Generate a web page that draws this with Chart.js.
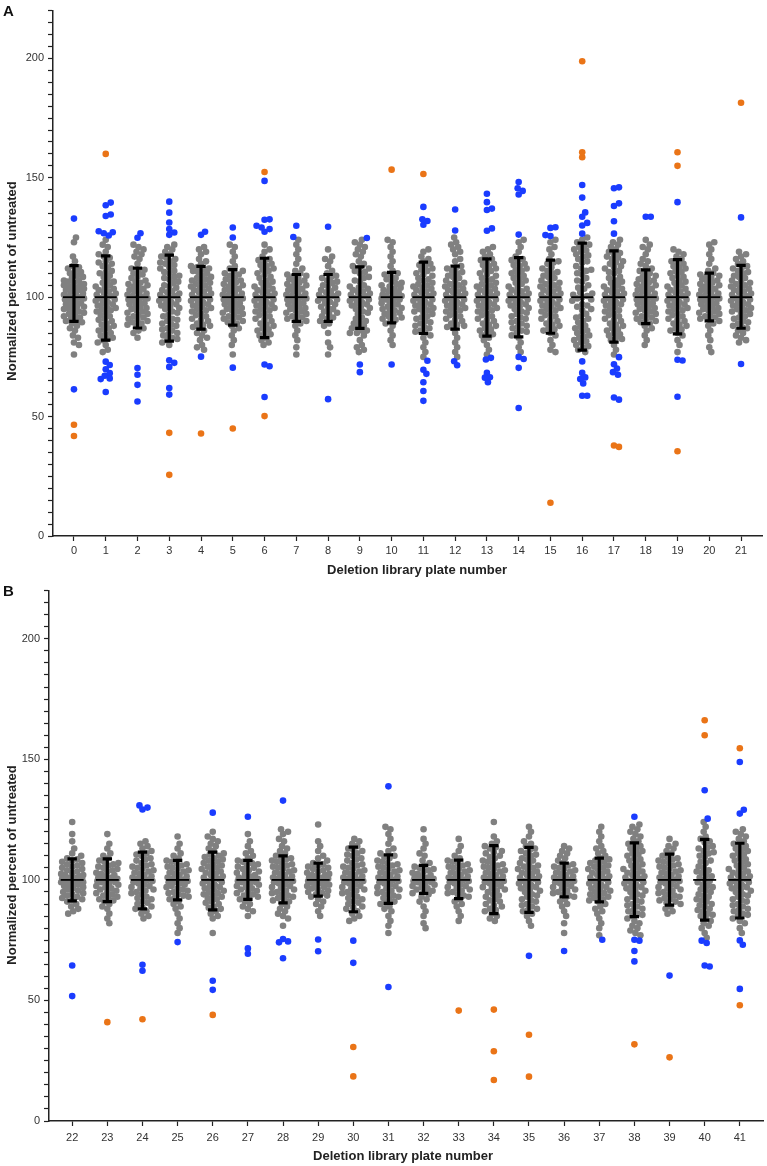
<!DOCTYPE html>
<html>
<head>
<meta charset="utf-8">
<script src="https://cdn.jsdelivr.net/npm/chart.js@4.4.1/dist/chart.umd.min.js"></script>
<style>
    body { margin: 0; background: #fff; width: 767px; height: 1166px; position: relative; overflow: hidden; font-family: "Liberation Sans", Arial, sans-serif; }
    .panel { position: absolute; left: 0; width: 767px; }
    .panel canvas { display: block; }
    .tag { position: absolute; left: 3px; font-weight: bold; font-size: 15px; line-height: 1; color: #111; }
    .ytitle, .xtitle { position: absolute; font-weight: bold; font-size: 13px; line-height: 1; color: #222; white-space: nowrap; }
    .ytitle { transform: translate(-50%, -50%) rotate(-90deg); }
    .xtitle { transform: translate(-50%, -50%); }
</style>
</head>
<body>
<div class="panel" style="top:0;height:580px"><canvas id="chartA" width="767" height="580"></canvas></div>
<div class="panel" style="top:580px;height:586px"><canvas id="chartB" width="767" height="586"></canvas></div>
<div class="tag" style="top:3px">A</div>
<div class="tag" style="top:583px">B</div>
<div class="ytitle" style="left:11px;top:281px">Normalized percent of untreated</div>
<div class="ytitle" style="left:11px;top:865px">Normalized percent of untreated</div>
<div class="xtitle" style="left:417px;top:569px">Deletion library plate number</div>
<div class="xtitle" style="left:403px;top:1155px">Deletion library plate number</div>

<script>
// Plate numbers (x categories)
const platesA = [0, 1, 2, 3, 4, 5, 6, 7, 8, 9, 10, 11, 12, 13, 14, 15, 16, 17, 18, 19, 20, 21];
const platesB = [22, 23, 24, 25, 26, 27, 28, 29, 30, 31, 32, 33, 34, 35, 36, 37, 38, 39, 40, 41];

// y ticks (labels only on multiples of 50)
const yTicks = [0, 5, 10, 15, 20, 25, 30, 35, 40, 45, 50, 55, 60, 65, 70, 75, 80, 85, 90, 95, 100,
    105, 110, 115, 120, 125, 130, 135, 140, 145, 150, 155, 160, 165, 170, 175, 180, 185, 190, 195, 200,
    205, 210, 215, 220];

// Panel A - mean and error bar ends
const meanA = [100, 100, 100, 100, 100, 100, 100, 100, 100, 100, 100, 100, 100, 100, 100, 100, 100, 100, 100, 100, 100, 100];
const upperA = [113.2, 117.3, 112.2, 117.6, 112.9, 111.5, 116.3, 109.5, 109.5, 112.7, 110.4, 114.7, 113, 116, 116.6, 115.5, 122.6, 119.4, 111.4, 115.7, 110.1, 113.3];
const lowerA = [89.9, 82.0, 87.1, 81.6, 86.6, 88.3, 83.1, 89.9, 89.9, 86.9, 89.2, 84.8, 86.6, 83.7, 83.4, 84.9, 77.8, 81.2, 88.9, 84.6, 90.1, 87.0];

// Panel A - grey points per plate (full spread)
const greyA = [
    [125, 123, 117, 115, 113, 112, 111, 110, 109, 108, 107, 106, 105, 105, 104, 103, 102, 101, 100, 100, 99, 98, 97, 96, 95, 94, 93, 92, 91, 90, 89, 88, 87, 86, 84, 83, 81, 80, 76],
    [124, 122, 121, 119, 118, 117, 115, 114, 113, 111, 110, 109, 107, 106, 105, 104, 103, 102, 101, 100, 99, 98, 97, 96, 95, 94, 92, 91, 90, 89, 88, 87, 86, 85, 84, 83, 82, 81, 80, 78, 77],
    [122, 121, 120, 119, 118, 117, 116, 114, 112, 111, 110, 108, 107, 106, 105, 104, 103, 102, 101, 100, 100, 99, 98, 97, 96, 95, 94, 93, 92, 91, 90, 89, 88, 87, 86, 85, 83],
    [122, 121, 120, 119, 118, 117, 116, 115, 114, 112, 111, 110, 109, 108, 106, 105, 104, 103, 102, 101, 100, 99, 98, 97, 96, 95, 94, 92, 91, 90, 89, 88, 87, 86, 85, 84, 83, 82, 81, 80],
    [121, 120, 119, 118, 116, 115, 114, 113, 112, 111, 110, 109, 108, 107, 106, 105, 104, 103, 102, 101, 100, 99, 98, 97, 96, 95, 94, 93, 92, 91, 90, 89, 88, 87, 86, 85, 84, 83, 82, 80, 79, 78],
    [122, 121, 119, 117, 115, 113, 112, 111, 110, 109, 108, 107, 106, 105, 104, 103, 102, 101, 100, 100, 99, 98, 97, 96, 95, 94, 93, 92, 91, 90, 89, 88, 87, 86, 84, 82, 80, 76],
    [122, 120, 119, 117, 116, 115, 114, 113, 112, 111, 110, 108, 107, 106, 105, 104, 103, 102, 101, 100, 99, 98, 97, 96, 95, 94, 93, 92, 91, 90, 89, 88, 87, 86, 85, 84, 83, 82, 81, 80],
    [124, 122, 120, 118, 116, 114, 112, 111, 110, 109, 108, 107, 106, 105, 104, 103, 102, 101, 100, 100, 99, 98, 97, 96, 95, 94, 93, 92, 91, 90, 89, 88, 86, 84, 82, 79, 76],
    [120, 117, 116, 115, 113, 111, 110, 109, 108, 107, 106, 105, 104, 103, 102, 101, 100, 99, 98, 97, 96, 95, 94, 93, 92, 91, 90, 89, 88, 85, 81, 79, 76],
    [124, 123, 122, 121, 120, 119, 118, 117, 115, 114, 113, 112, 111, 110, 108, 107, 105, 104, 103, 102, 101, 100, 99, 98, 97, 96, 95, 94, 93, 91, 90, 89, 88, 87, 86, 85, 84, 82, 80, 79, 78, 77],
    [124, 123, 121, 119, 117, 115, 113, 111, 110, 109, 108, 106, 105, 104, 103, 102, 101, 100, 100, 99, 99, 98, 97, 96, 95, 94, 93, 92, 91, 90, 89, 88, 86, 84, 82, 80],
    [120, 119, 117, 116, 115, 114, 113, 112, 111, 110, 109, 108, 107, 106, 105, 104, 103, 102, 101, 100, 99, 98, 97, 96, 95, 94, 93, 92, 91, 90, 89, 88, 87, 86, 85, 84, 83, 81, 79, 77, 75],
    [125, 123, 122, 121, 120, 119, 118, 116, 115, 113, 112, 111, 110, 109, 108, 107, 106, 105, 104, 103, 102, 101, 100, 99, 98, 97, 96, 95, 94, 93, 92, 91, 90, 89, 88, 87, 85, 83, 81, 79, 77, 75],
    [121, 120, 119, 118, 117, 116, 115, 114, 113, 112, 111, 110, 109, 108, 107, 106, 105, 104, 103, 102, 101, 100, 99, 98, 97, 96, 95, 94, 93, 92, 91, 90, 89, 88, 87, 86, 85, 84, 83, 82, 80, 78, 76],
    [124, 123, 121, 119, 117, 116, 115, 114, 113, 112, 111, 110, 109, 108, 107, 106, 104, 103, 102, 101, 100, 99, 98, 97, 96, 95, 94, 93, 92, 91, 90, 89, 88, 87, 86, 85, 84, 83, 81, 79, 77],
    [124, 123, 121, 120, 118, 116, 115, 114, 112, 111, 110, 109, 108, 107, 106, 105, 104, 103, 102, 101, 100, 99, 98, 97, 96, 95, 94, 93, 92, 91, 90, 89, 88, 87, 86, 85, 84, 82, 80, 78, 77],
    [125, 124, 123, 122, 121, 120, 119, 118, 117, 116, 115, 113, 112, 111, 110, 108, 107, 105, 104, 102, 101, 100, 99, 97, 96, 95, 93, 92, 91, 90, 88, 87, 86, 85, 84, 83, 82, 81, 80, 79, 78, 77],
    [124, 123, 122, 121, 120, 119, 118, 117, 116, 115, 114, 113, 112, 111, 110, 108, 107, 106, 105, 104, 103, 102, 101, 100, 99, 98, 97, 96, 95, 94, 93, 92, 91, 90, 89, 88, 87, 86, 85, 84, 83, 82, 80, 78, 76],
    [124, 122, 121, 120, 118, 116, 115, 114, 113, 112, 111, 110, 109, 108, 107, 106, 105, 104, 103, 102, 101, 100, 100, 99, 98, 97, 96, 95, 94, 93, 92, 91, 90, 89, 88, 87, 86, 84, 82, 80],
    [120, 119, 118, 117, 116, 115, 114, 113, 112, 111, 110, 109, 108, 107, 106, 105, 104, 103, 102, 101, 100, 99, 98, 97, 96, 95, 94, 93, 92, 91, 90, 89, 88, 87, 86, 85, 84, 82, 80, 77],
    [123, 122, 120, 118, 116, 114, 112, 111, 110, 109, 108, 107, 106, 105, 104, 103, 102, 101, 100, 100, 99, 98, 97, 96, 95, 94, 93, 92, 91, 90, 89, 88, 86, 84, 82, 79, 77],
    [119, 118, 117, 116, 115, 114, 113, 112, 111, 110, 109, 108, 107, 106, 105, 104, 103, 102, 101, 100, 99, 98, 97, 96, 95, 94, 93, 92, 91, 90, 89, 88, 87, 86, 85, 84, 83, 82, 81]
];

// Panel A - extra grey points crowded inside the error bar
const greyCoreA = [
    [112.5, 110.5, 108.5, 107, 106.5, 105.5, 104.5, 103.5, 103, 102.5, 101.5, 100.5, 99.5, 98.5, 97.5, 96.5, 96, 95.5, 94.5, 93.5, 92.5, 91.5, 90.5, 89.5],
    [116.5, 114.5, 112.5, 110.5, 108.5, 106.5, 104.5, 103.5, 102.5, 101.5, 100.5, 99.5, 98.5, 97.5, 96.5, 95.5, 94.5, 93.5, 92.5, 90.5, 88.5, 86.5, 84.5, 82.5],
    [111.5, 109.5, 108.5, 106.5, 105.5, 104.5, 103.5, 102.5, 101.5, 100.5, 99.5, 98.5, 97.5, 96.5, 95.5, 94.5, 93.5, 92.5, 91.5, 90.5, 89.5, 88.5],
    [116.5, 114.5, 113.5, 112.5, 110.5, 108.5, 107.5, 106.5, 104.5, 102.5, 101.5, 100.5, 99.5, 98.5, 97.5, 96.5, 95.5, 93.5, 92.5, 90.5, 88.5, 86.5, 84.5, 82.5],
    [112.5, 111.5, 110.5, 108.5, 107.5, 106.5, 105.5, 104.5, 103.5, 102.5, 101.5, 100.5, 99.5, 98.5, 97.5, 96.5, 95.5, 94.5, 92.5, 90.5, 88.5, 87.5],
    [110.5, 109.5, 107.5, 106.5, 105.5, 104.5, 103.5, 102.5, 101.5, 100.5, 99.5, 98.5, 97.5, 96.5, 95.5, 94.5, 93.5, 92.5, 91.5, 90.5, 89.5],
    [115.5, 113.5, 111.5, 109.5, 108.5, 106.5, 104.5, 103.5, 102.5, 101.5, 100.5, 99.5, 98.5, 97.5, 96.5, 95.5, 94.5, 92.5, 90.5, 88.5, 86.5, 84.5],
    [109.5, 108.5, 107.5, 106.5, 105.5, 104.5, 103.5, 102.5, 101.5, 100.5, 99.5, 98.5, 97.5, 96.5, 95.5, 94.5, 93.5, 92.5, 91.5, 90.5],
    [108.5, 106.5, 104.5, 102.5, 101.5, 100.5, 99.5, 98.5, 97.5, 95.5, 93.5, 91.5],
    [112.5, 110.5, 108.5, 106.5, 104.5, 103.5, 102.5, 101.5, 100.5, 99.5, 98.5, 97.5, 96.5, 95.5, 93.5, 91.5, 89.5, 87.5, 86, 85],
    [109.5, 107.5, 106.5, 105.5, 104.5, 103.5, 102.5, 101.5, 100.5, 100.5, 99.5, 99.5, 98.5, 97.5, 96.5, 95.5, 94.5, 93.5, 92.5, 91.5, 90.5],
    [113.5, 111.5, 109.5, 107.5, 105.5, 104.5, 103.5, 102.5, 101.5, 100.5, 99.5, 98.5, 97.5, 96.5, 95.5, 94.5, 93.5, 91.5, 89.5, 87.5, 85.5],
    [112.5, 110.5, 108.5, 106.5, 105.5, 104.5, 103.5, 102.5, 101.5, 100.5, 99.5, 98.5, 97.5, 96.5, 95.5, 94.5, 92.5, 90.5, 88.5, 87.5],
    [115.5, 113.5, 111.5, 109.5, 107.5, 105.5, 104.5, 103.5, 102.5, 101.5, 100.5, 99.5, 98.5, 97.5, 96.5, 95.5, 94.5, 92.5, 90.5, 88.5, 86.5, 84.5],
    [115.5, 113.5, 111.5, 109.5, 107.5, 105.5, 104.5, 103.5, 102.5, 101.5, 100.5, 99.5, 98.5, 97.5, 96.5, 95.5, 93.5, 91.5, 89.5, 87.5, 85.5],
    [114.5, 112.5, 110.5, 108.5, 106.5, 105.5, 104.5, 103.5, 102.5, 101.5, 100.5, 99.5, 98.5, 97.5, 96.5, 95.5, 94.5, 92.5, 90.5, 88.5, 86.5],
    [121.5, 119.5, 117.5, 114.5, 111.5, 109.5, 106.5, 103.5, 101.5, 100.5, 99.5, 98.5, 96.5, 94.5, 91.5, 89.5, 87.5, 85.5, 83.5, 81.5, 79.5],
    [118.5, 116.5, 114.5, 112.5, 110.5, 108.5, 106.5, 104.5, 103.5, 102.5, 101.5, 100.5, 99.5, 98.5, 97.5, 96.5, 94.5, 92.5, 90.5, 88.5, 86.5, 84.5, 82.5],
    [110.5, 108.5, 107.5, 106.5, 105.5, 104.5, 103.5, 102.5, 101.5, 100.5, 99.5, 98.5, 97.5, 96.5, 95.5, 94.5, 93.5, 92.5, 91.5, 90.5, 89.5],
    [114.5, 112.5, 110.5, 108.5, 106.5, 104.5, 103.5, 102.5, 101.5, 100.5, 99.5, 98.5, 97.5, 96.5, 95.5, 94.5, 92.5, 90.5, 88.5, 86.5],
    [109.5, 108.5, 107.5, 106.5, 105.5, 104.5, 103.5, 102.5, 101.5, 100.5, 99.5, 98.5, 97.5, 96.5, 95.5, 94.5, 93.5, 92.5, 91.5, 90.5],
    [112.5, 110.5, 108.5, 106.5, 105.5, 104.5, 103.5, 102.5, 101.5, 100.5, 99.5, 98.5, 97.5, 96.5, 95.5, 94.5, 93.5, 91.5, 89.5, 87.5]
];

// Panel A - blue (moderate) and orange (strong) outliers per plate
const blueA = [
    [132.9, 61.4],
    [139.6, 138.5, 134.6, 134.0, 127.6, 127.2, 126.8, 125.8, 73.0, 71.6, 69.8, 68.2, 67.1, 66.0, 65.7, 60.3],
    [126.8, 124.9, 70.3, 67.5, 63.3, 56.3],
    [140.0, 135.4, 131.3, 128.5, 127.1, 126.1, 73.6, 72.5, 70.8, 62.0, 59.2],
    [127.4, 126.1, 75.1],
    [129.2, 125.0, 70.5],
    [148.7, 132.6, 132.4, 129.9, 129.2, 128.5, 127.4, 71.8, 71.1, 58.2],
    [129.9, 125.2],
    [129.5, 57.3],
    [124.8, 71.8, 68.6],
    [71.8],
    [137.8, 132.6, 131.9, 130.3, 73.4, 69.6, 67.9, 64.4, 60.7, 56.6],
    [136.7, 127.9, 73.2, 71.5],
    [143.3, 139.8, 137.1, 136.5, 128.8, 127.8, 74.6, 73.9, 68.3, 66.5, 66.3, 64.4],
    [148.2, 145.6, 144.5, 143.0, 126.2, 75.0, 74.1, 70.4, 53.6],
    [129.3, 129.0, 126.0, 125.6],
    [147.0, 141.7, 135.5, 133.7, 131.1, 130.0, 126.6, 73.1, 68.3, 66.4, 65.7, 63.9, 58.7, 58.7],
    [146.0, 145.6, 139.3, 138.2, 131.8, 126.6, 74.9, 71.9, 70.1, 68.6, 67.5, 58.0, 57.1],
    [133.7, 133.7],
    [139.8, 73.8, 73.5, 58.3],
    [],
    [133.4, 72.0]
];
const orangeA = [
    [46.6, 41.9], [160.0], [], [43.2, 25.6], [42.9], [45.0], [152.4, 50.2], [], [], [], [153.4],
    [151.6], [], [], [], [13.9], [198.8, 160.7, 158.6], [37.9, 37.3], [], [160.7, 155.0, 35.5], [], [181.4]
];

// Panel B - mean and error bar ends
const meanB = [100, 100, 100, 100, 100, 100, 100, 100, 100, 100, 100, 100, 100, 100, 100, 100, 100, 100, 100, 100];
const upperB = [108.7, 108.7, 111.5, 108.1, 111.5, 108.1, 110.0, 107.0, 113.6, 110.4, 106.0, 108.2, 114.2, 113.5, 107.0, 109.0, 115.4, 110.7, 116.8, 115.2];
const lowerB = [91.3, 91.0, 88.0, 91.7, 87.6, 91.9, 90.5, 93.3, 86.8, 90.3, 94.4, 92.2, 86.0, 86.5, 93.0, 90.9, 84.8, 89.5, 83.3, 84.2];

// Panel B - grey points per plate (full spread)
const greyB = [
    [124, 119, 116, 113, 111, 110, 109, 108, 107, 106, 105, 104, 103, 102, 102, 101, 101, 100, 100, 100, 99, 99, 98, 98, 97, 96, 95, 94, 93, 92, 91, 90, 89, 88, 87, 86],
    [119, 115, 113, 111, 110, 109, 108, 107, 106, 105, 104, 103, 102, 101, 101, 100, 100, 99, 99, 98, 97, 96, 95, 94, 93, 92, 91, 90, 89, 88, 86, 84, 82],
    [116, 115, 114, 113, 112, 111, 110, 109, 108, 107, 106, 105, 104, 103, 102, 101, 100, 100, 99, 98, 97, 96, 95, 94, 93, 92, 91, 90, 89, 88, 87, 86, 85, 84],
    [118, 115, 113, 111, 110, 109, 108, 107, 106, 105, 104, 103, 102, 101, 100, 100, 99, 99, 98, 97, 96, 95, 94, 93, 92, 91, 90, 89, 88, 86, 84, 82, 80, 78],
    [120, 118, 117, 116, 115, 114, 113, 112, 111, 110, 109, 108, 107, 106, 105, 104, 103, 102, 101, 100, 99, 98, 97, 96, 95, 94, 93, 92, 91, 90, 89, 88, 87, 86, 85, 84, 78],
    [119, 116, 114, 112, 111, 110, 109, 108, 107, 106, 105, 104, 103, 102, 101, 100, 100, 99, 99, 98, 97, 96, 95, 94, 93, 92, 91, 90, 89, 88, 87, 85],
    [121, 120, 119, 117, 116, 114, 113, 112, 111, 110, 109, 108, 107, 106, 105, 104, 103, 102, 101, 100, 100, 99, 98, 97, 96, 95, 94, 93, 92, 91, 90, 89, 88, 87, 86, 85, 84, 81],
    [123, 116, 114, 112, 110, 109, 108, 107, 106, 105, 104, 103, 102, 102, 101, 101, 100, 100, 99, 99, 98, 98, 97, 96, 95, 94, 93, 92, 91, 90, 89, 87, 85],
    [117, 116, 115, 114, 113, 112, 111, 110, 109, 108, 107, 106, 105, 104, 103, 102, 101, 100, 100, 99, 98, 97, 96, 95, 94, 93, 92, 91, 90, 89, 88, 87, 86, 85, 84, 83],
    [122, 121, 119, 117, 115, 113, 112, 111, 110, 109, 108, 107, 106, 105, 104, 103, 102, 101, 100, 100, 99, 98, 97, 96, 95, 94, 93, 92, 91, 90, 89, 88, 87, 85, 83, 81, 78],
    [121, 117, 115, 113, 111, 110, 108, 107, 106, 105, 104, 103, 102, 101, 101, 100, 100, 99, 99, 98, 97, 96, 95, 94, 93, 92, 91, 89, 87, 85, 82, 80],
    [117, 114, 112, 110, 109, 108, 107, 106, 105, 104, 103, 102, 101, 100, 100, 99, 98, 97, 96, 95, 94, 93, 92, 91, 90, 89, 87, 85, 83],
    [124, 118, 116, 115, 114, 113, 112, 111, 110, 109, 108, 107, 106, 105, 104, 103, 102, 101, 100, 100, 99, 98, 97, 96, 95, 94, 93, 92, 91, 90, 89, 88, 87, 86, 85, 84, 83],
    [122, 120, 118, 116, 115, 114, 113, 112, 111, 110, 109, 108, 107, 106, 105, 104, 103, 102, 101, 100, 99, 98, 97, 96, 95, 94, 93, 92, 91, 90, 89, 88, 87, 86, 85, 83, 81],
    [114, 113, 112, 111, 110, 109, 108, 107, 106, 105, 104, 103, 102, 101, 100, 100, 99, 98, 97, 96, 95, 94, 93, 92, 91, 90, 89, 87, 85, 82, 78],
    [122, 120, 118, 116, 114, 113, 112, 111, 110, 109, 108, 107, 106, 105, 104, 103, 102, 101, 100, 99, 98, 97, 96, 95, 94, 93, 92, 91, 90, 89, 88, 87, 86, 84, 82, 80, 77],
    [123, 122, 121, 120, 119, 118, 117, 116, 115, 114, 113, 112, 111, 110, 109, 108, 107, 106, 105, 104, 103, 102, 101, 100, 99, 98, 97, 96, 95, 94, 93, 92, 91, 90, 89, 88, 87, 86, 85, 84, 83, 82, 81, 80, 79, 78, 77],
    [117, 115, 114, 113, 112, 111, 110, 109, 108, 107, 106, 105, 104, 103, 102, 101, 100, 100, 99, 98, 97, 96, 95, 94, 93, 92, 91, 90, 89, 88, 87, 86],
    [124, 122, 120, 118, 117, 116, 114, 113, 112, 111, 110, 108, 107, 105, 104, 103, 102, 101, 100, 99, 98, 97, 96, 95, 94, 93, 92, 91, 90, 89, 88, 87, 86, 85, 84, 83, 82, 81, 80, 78, 76],
    [121, 120, 119, 118, 117, 116, 115, 114, 113, 112, 111, 110, 109, 108, 107, 106, 105, 104, 103, 102, 101, 100, 99, 98, 97, 96, 95, 94, 93, 92, 91, 90, 89, 88, 87, 86, 85, 84, 83, 82, 80, 78]
];

// Panel B - extra grey points crowded inside the error bar
const greyCoreB = [
    [108.5, 107.5, 106.5, 105.5, 104.5, 103.5, 102.5, 101.5, 100.5, 100.5, 99.5, 99.5, 98.5, 97.5, 96.5, 95.5, 94.5, 93.5, 92.5, 91.5],
    [107.5, 106.5, 105.5, 104.5, 103.5, 102.5, 101.5, 100.5, 100.5, 99.5, 99.5, 98.5, 97.5, 96.5, 95.5, 94.5, 93.5, 92.5, 91.5],
    [110.5, 108.5, 106.5, 105.5, 104.5, 103.5, 102.5, 101.5, 100.5, 99.5, 98.5, 97.5, 96.5, 95.5, 94.5, 92.5, 90.5, 88.5],
    [107.5, 106.5, 105.5, 104.5, 103.5, 102.5, 101.5, 100.5, 99.5, 98.5, 97.5, 96.5, 95.5, 94.5, 93.5, 92.5],
    [110.5, 109.5, 108.5, 107.5, 106.5, 105.5, 104.5, 103.5, 102.5, 101.5, 100.5, 99.5, 98.5, 97.5, 96.5, 95.5, 94.5, 93.5, 92.5, 90.5, 88.5],
    [107.5, 106.5, 105.5, 104.5, 103.5, 102.5, 101.5, 100.5, 100.5, 99.5, 99.5, 98.5, 97.5, 96.5, 95.5, 94.5, 93.5, 92.5],
    [109.5, 108.5, 107.5, 106.5, 105.5, 104.5, 103.5, 102.5, 101.5, 100.5, 99.5, 98.5, 97.5, 96.5, 95.5, 94.5, 93.5, 92.5, 91.5],
    [106.5, 105.5, 104.5, 103.5, 102.5, 101.5, 100.5, 100.5, 99.5, 99.5, 98.5, 97.5, 96.5, 95.5, 94.5, 93.5],
    [112.5, 110.5, 108.5, 106.5, 105.5, 104.5, 103.5, 102.5, 101.5, 100.5, 99.5, 98.5, 97.5, 96.5, 95.5, 94.5, 92.5, 90.5, 88.5],
    [109.5, 107.5, 106.5, 105.5, 104.5, 103.5, 102.5, 101.5, 100.5, 99.5, 98.5, 97.5, 96.5, 95.5, 94.5, 93.5, 92.5, 90.5],
    [105.5, 104.5, 103.5, 102.5, 101.5, 100.5, 100.5, 99.5, 99.5, 98.5, 97.5, 96.5, 95.5, 94.5],
    [107.5, 106.5, 105.5, 104.5, 103.5, 102.5, 101.5, 100.5, 99.5, 98.5, 97.5, 96.5, 95.5, 94.5, 93.5],
    [113.5, 111.5, 109.5, 107.5, 106.5, 105.5, 104.5, 103.5, 102.5, 101.5, 100.5, 99.5, 98.5, 97.5, 96.5, 95.5, 93.5, 91.5, 89.5, 87.5],
    [112.5, 110.5, 108.5, 106.5, 105.5, 104.5, 103.5, 102.5, 101.5, 100.5, 99.5, 98.5, 97.5, 96.5, 95.5, 93.5, 91.5, 89.5, 87.5],
    [106.5, 105.5, 104.5, 103.5, 102.5, 101.5, 100.5, 99.5, 98.5, 97.5, 96.5, 95.5, 94.5, 93.5],
    [108.5, 107.5, 106.5, 105.5, 104.5, 103.5, 102.5, 101.5, 100.5, 99.5, 98.5, 97.5, 96.5, 95.5, 94.5, 93.5, 92.5, 91.5],
    [114.5, 112.5, 110.5, 108.5, 106.5, 104.5, 103.5, 102.5, 101.5, 100.5, 99.5, 98.5, 97.5, 96.5, 95.5, 93.5, 91.5, 89.5, 87.5, 85.5],
    [109.5, 108.5, 107.5, 106.5, 105.5, 104.5, 103.5, 102.5, 101.5, 100.5, 99.5, 98.5, 97.5, 96.5, 95.5, 94.5, 93.5, 92.5, 91.5, 90.5],
    [115.5, 113.5, 111.5, 109.5, 107.5, 105.5, 103.5, 101.5, 99.5, 97.5, 95.5, 93.5, 91.5, 89.5, 87.5, 85.5],
    [114.5, 112.5, 110.5, 108.5, 106.5, 104.5, 103.5, 102.5, 101.5, 100.5, 99.5, 98.5, 97.5, 96.5, 95.5, 93.5, 91.5, 89.5, 87.5, 85.5]
];

// Panel B - blue and orange outliers per plate
const blueB = [
    [64.5, 51.8], [], [130.9, 130.0, 129.2, 64.8, 62.3], [74.2], [127.9, 58.2, 54.4], [126.2, 71.6, 69.4],
    [132.9, 75.5, 74.5, 74.1, 67.5], [75.3, 70.4], [74.8, 65.6], [138.8, 55.6], [], [], [], [68.5], [70.5],
    [75.2], [126.2, 75.2, 74.8, 70.5, 66.2], [60.3], [137.2, 125.4, 74.8, 73.8, 64.5, 64.1],
    [148.9, 129.1, 127.5, 74.9, 73.1, 54.8]
];
const orangeB = [
    [], [41.0], [42.2], [], [44.0], [], [], [], [30.7, 18.5], [], [], [45.8], [46.2, 28.9, 17.0],
    [35.8, 18.4], [], [], [31.8], [26.4], [166.2, 160.0], [154.6, 48.0]
];

const GREY = '#808080';
const BLUE = '#1a3cff';
const ORANGE = '#ea7417';
const FONT = '"Liberation Sans", Arial, sans-serif';

// Spread the points of each plate sideways (simple beeswarm, pixel based)
function swarm(plates, grey, core, blue, orange, pxX, pxY, half, minD) {
    const out = { grey: [], blue: [], orange: [] };
    plates.forEach((plate, i) => {
        const pts = []
            .concat(grey[i].map(v => ({ v, c: 'grey' })))
            .concat(core[i].map(v => ({ v, c: 'grey' })))
            .concat(blue[i].map(v => ({ v, c: 'blue' })))
            .concat(orange[i].map(v => ({ v, c: 'orange' })));
        pts.sort((a, b) => Math.abs(a.v - 100) - Math.abs(b.v - 100));
        const placed = [];
        pts.forEach(p => {
            const py = p.v * pxY;
            let best = 0, bestScore = -1;
            for (let k = 0; k <= 2 * half; k++) {
                const dx = (k % 2 ? 1 : -1) * Math.ceil(k / 2);
                let dmin = Infinity;
                for (const q of placed) {
                    const d = Math.hypot(q.dx - dx, q.py - py);
                    if (d < dmin) dmin = d;
                }
                if (dmin >= minD) { best = dx; break; }
                if (dmin > bestScore) { bestScore = dmin; best = dx; }
            }
            placed.push({ dx: best, py });
            out[p.c].push({ x: plate + best / pxX, y: p.v });
        });
    });
    return out;
}

// Mean line + error bar drawn on top of the points
const errorBars = {
    id: 'errorBars',
    afterDatasetsDraw(chart, args, opts) {
        const { ctx, scales: { x, y } } = chart;
        ctx.save();
        ctx.strokeStyle = '#000';
        opts.plates.forEach((p, i) => {
            const cx = x.getPixelForValue(p);
            const yt = y.getPixelForValue(opts.upper[i]);
            const yb = y.getPixelForValue(opts.lower[i]);
            const ym = y.getPixelForValue(opts.mean[i]);
            ctx.lineWidth = 3.2;
            ctx.beginPath();
            ctx.moveTo(cx, yt); ctx.lineTo(cx, yb);
            ctx.moveTo(cx - 4.7, yt); ctx.lineTo(cx + 4.7, yt);
            ctx.moveTo(cx - 4.7, yb); ctx.lineTo(cx + 4.7, yb);
            ctx.stroke();
            ctx.lineWidth = 1.8;
            ctx.beginPath();
            ctx.moveTo(cx - opts.meanHalf, ym); ctx.lineTo(cx + opts.meanHalf, ym);
            ctx.stroke();
        });
        ctx.restore();
    }
};

function mkPanel(id, plates, grey, core, blue, orange, mean, upper, lower, geo) {
    const xMin = plates[0] - 0.66, xMax = plates[plates.length - 1] + 0.66;
    const pxX = (geo.right - geo.left) / (xMax - xMin);
    const pxY = (geo.bottom - geo.top) / 220;
    const pts = swarm(plates, grey, core, blue, orange, pxX, pxY, geo.half, 5);
    const ds = (data, color) => ({
        data, pointRadius: 3.3, pointHoverRadius: 3.3, pointBackgroundColor: color,
        pointBorderWidth: 0, borderWidth: 0, showLine: false
    });
    return new Chart(document.getElementById(id), {
        type: 'scatter',
        data: { datasets: [ds(pts.orange, ORANGE), ds(pts.blue, BLUE), ds(pts.grey, GREY)] },
        options: {
            responsive: false,
            animation: false,
            events: [],
            layout: { padding: { top: geo.top, right: geo.width - geo.right, left: 0, bottom: 0 } },
            plugins: {
                legend: { display: false },
                tooltip: { enabled: false },
                errorBars: { plates, mean, upper, lower, meanHalf: geo.meanHalf }
            },
            scales: {
                x: {
                    type: 'linear', min: xMin, max: xMax,
                    afterBuildTicks: s => { s.ticks = plates.map(v => ({ value: v })); },
                    afterFit: s => { s.height = geo.height - geo.bottom; },
                    ticks: { autoSkip: false, maxRotation: 0, color: '#333', font: { family: FONT, size: 11 }, padding: geo.xPad },
                    grid: { drawOnChartArea: false, drawTicks: true, tickLength: 5, tickColor: '#222', tickWidth: 1.2 },
                    border: { color: '#222', width: 1.5 }
                },
                y: {
                    type: 'linear', min: 0, max: 220,
                    afterBuildTicks: s => { s.ticks = yTicks.map(v => ({ value: v })); },
                    afterFit: s => { s.width = geo.left; },
                    ticks: {
                        autoSkip: false, color: '#333', font: { family: FONT, size: 11 }, padding: 4,
                        callback: v => (v % 50 === 0 ? v : '')
                    },
                    grid: { drawOnChartArea: false, drawTicks: true, tickLength: 5, tickColor: '#222', tickWidth: 1.2 },
                    border: { color: '#222', width: 1.5 }
                }
            }
        },
        plugins: [errorBars]
    });
}

mkPanel('chartA', platesA, greyA, greyCoreA, blueA, orangeA, meanA, upperA, lowerA,
    { width: 767, height: 580, left: 53, right: 762, top: 6, bottom: 536, half: 10, meanHalf: 11, xPad: 3 });
mkPanel('chartB', platesB, greyB, greyCoreB, blueB, orangeB, meanB, upperB, lowerB,
    { width: 767, height: 586, left: 49, right: 763, top: 5, bottom: 541, half: 11, meanHalf: 11.5, xPad: 5 });
</script>
</body>
</html>
